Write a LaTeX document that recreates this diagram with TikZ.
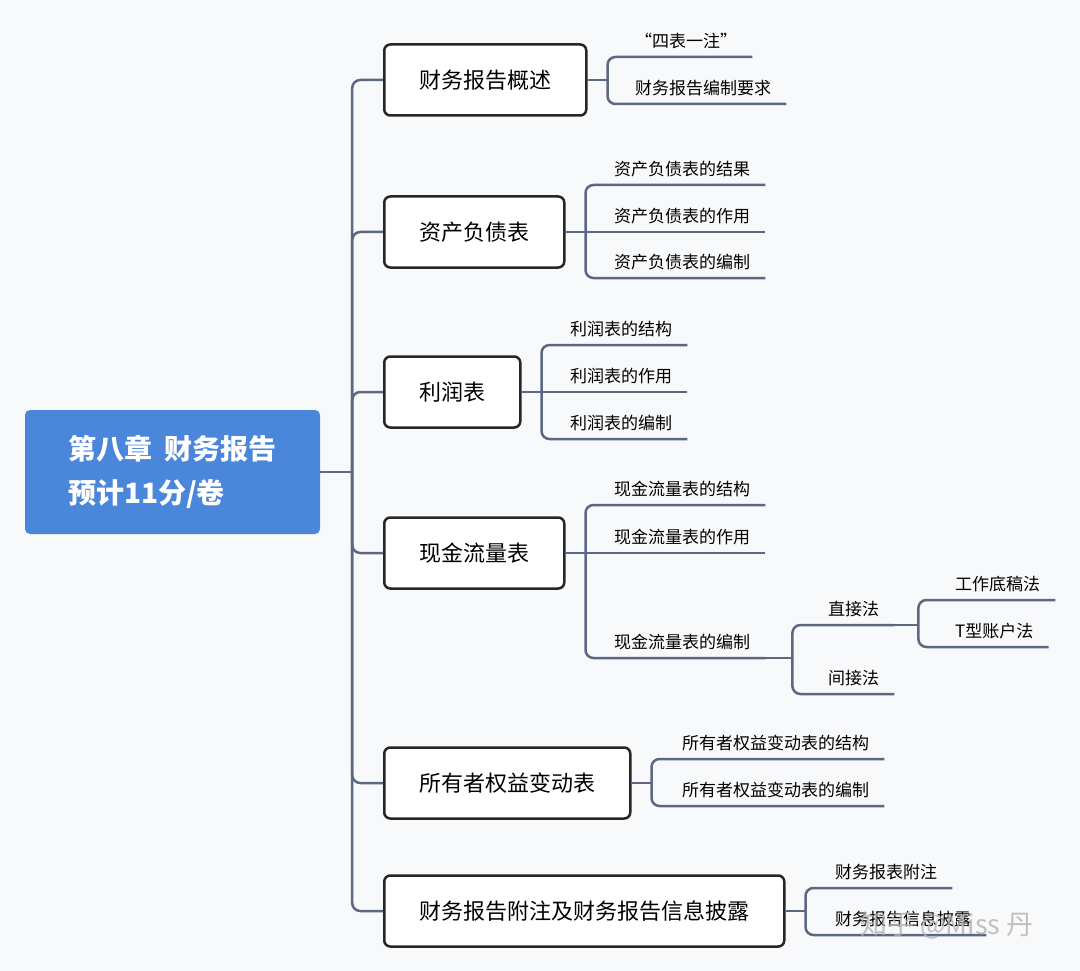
\documentclass[tikz,border=0pt]{standalone}
\usepackage{fontspec}
\setmainfont{Noto Sans CJK SC}
\usetikzlibrary{positioning}
\definecolor{bgcol}{HTML}{F8F9FB}
\definecolor{rootblue}{HTML}{4A86DA}
\definecolor{linkcol}{HTML}{5C6882}
\tikzset{
    rootbox/.style={fill=rootblue, rounded corners=5pt, text=white, align=left,
        minimum width=295pt, minimum height=124pt,
        font=\fontsize{28}{44}\selectfont\bfseries},
    topicbox/.style={draw=black!85, line width=2.5pt, fill=white, rounded corners=6pt,
        minimum height=71pt, inner xsep=35pt, anchor=west,
        font=\fontsize{22}{26}\selectfont},  % 二级主题
    leaf/.style={anchor=south west, inner xsep=15pt, inner ysep=8pt,
        font=\fontsize{17}{20}\selectfont},   % 子主题，下划线
    link/.style={draw=linkcol, line width=2.5pt, rounded corners=8pt},
}
\begin{document}
\begin{tikzpicture}[x=1pt, y=-1pt]
    \fill[bgcol] (0,0) rectangle (1080,971);

    \node[rootbox] (root) at (172.5,472) {第八章\ \ 财务报告\\预计11分/卷};

    \node[topicbox] (t1) at (383,80) {财务报告概述};
    \node[topicbox] (t2) at (383,232) {资产负债表};
    \node[topicbox] (t3) at (383,392) {利润表};
    \node[topicbox] (t4) at (383,553) {现金流量表};
    \node[topicbox] (t5) at (383,783) {所有者权益变动表};
    \node[topicbox] (t6) at (383,911) {财务报告附注及财务报告信息披露};

    % 主干
    \draw[link] (root.east) -- ++(32,0) coordinate (j0);
    \foreach \i in {1,...,6}
        \draw[link] (j0) |- (t\i.west);

    % 财务报告概述
    \node[leaf] (l11) at (620,57) {“四表一注”};
    \node[leaf] (l12) at (620,104) {财务报告编制要求};
    % 资产负债表
    \node[leaf] (l21) at (599,185) {资产负债表的结果};
    \node[leaf] (l22) at (599,232) {资产负债表的作用};
    \node[leaf] (l23) at (599,278) {资产负债表的编制};
    % 利润表
    \node[leaf] (l31) at (555,345) {利润表的结构};
    \node[leaf] (l32) at (555,392) {利润表的作用};
    \node[leaf] (l33) at (555,439) {利润表的编制};
    % 现金流量表
    \node[leaf] (l41) at (599,505) {现金流量表的结构};
    \node[leaf] (l42) at (599,553) {现金流量表的作用};
    \node[leaf] (l43) at (599,658) {现金流量表的编制};
    \node[leaf] (e1) at (813,625) {直接法};
    \node[leaf] (e2) at (813,694) {间接法};
    \node[leaf] (f1) at (940,600) {工作底稿法};
    \node[leaf] (f2) at (940,647) {T型账户法};
    % 所有者权益变动表
    \node[leaf] (l51) at (667,759) {所有者权益变动表的结构};
    \node[leaf] (l52) at (667,806) {所有者权益变动表的编制};
    % 附注及信息披露
    \node[leaf] (l61) at (820,888) {财务报表附注};
    \node[leaf] (l62) at (820,935) {财务报告信息披露};

    % 分支
    \foreach \t in {1,...,6}
        \draw[link] (t\t.east) -- ++(20,0) coordinate (j\t);
    \foreach \t/\j in {1/1, 1/2, 2/1, 2/3, 3/1, 3/3, 4/1, 4/3, 5/1, 5/2, 6/1, 6/2}
        \draw[link] (j\t) |- (l\t\j.south east);
    \foreach \t in {2,3,4}
        \draw[link] (j\t) -- (l\t2.south east);

    \draw[link] (l43.south east) -- ++(27,0) coordinate (k1);
    \foreach \j in {1,2}
        \draw[link] (k1) |- (e\j.south east);
    \draw[link] (e1.south east) -- ++(24,0) coordinate (k2);
    \foreach \j in {1,2}
        \draw[link] (k2) |- (f\j.south east);

    % 水印
    \node[text=gray!60, opacity=.8, font=\fontsize{27}{30}\selectfont] (wm) at (947,925) {知乎 @Miss 丹};
\end{tikzpicture}
\end{document}
